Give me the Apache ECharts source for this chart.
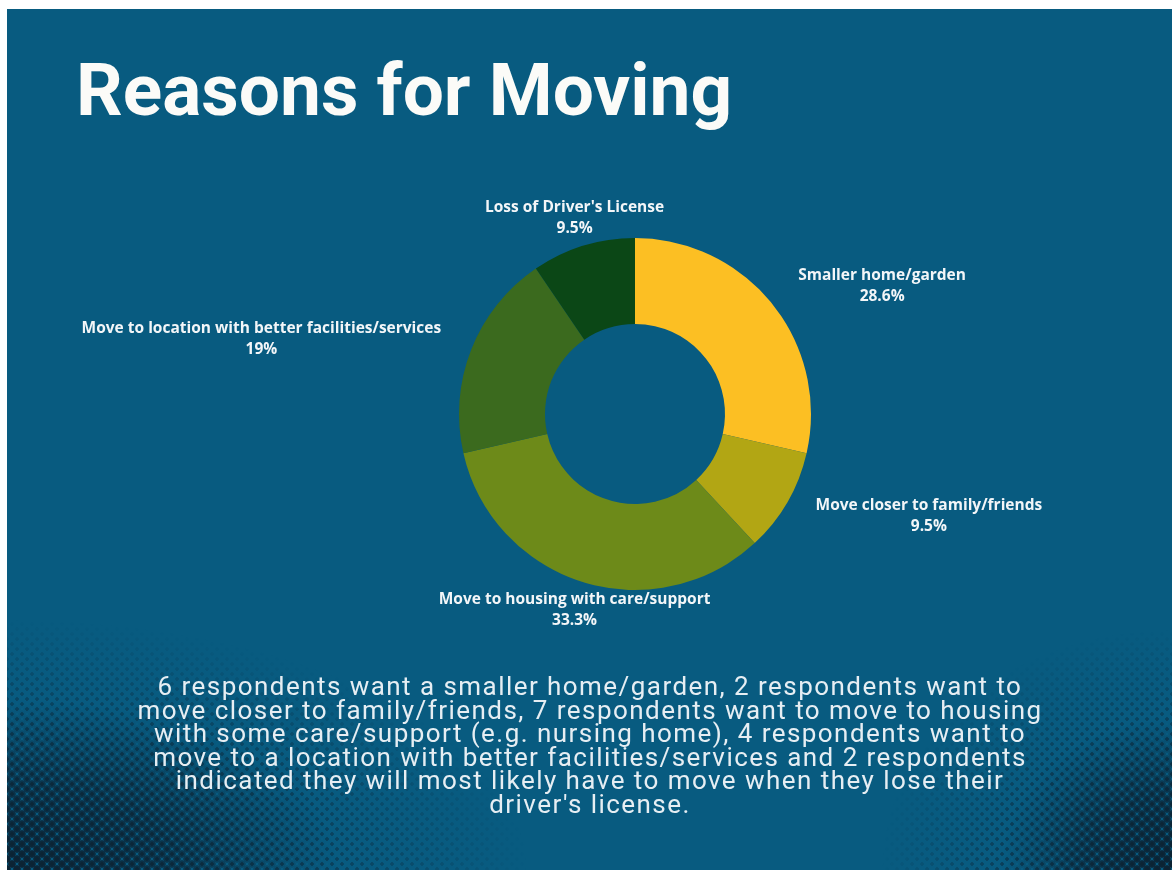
<!DOCTYPE html>
<html>
<head>
<meta charset="utf-8">
<title>Reasons for Moving</title>
<script src="https://cdn.jsdelivr.net/npm/echarts@6/dist/echarts.min.js"></script>
<style>
  html, body { margin: 0; padding: 0; background: #ffffff; }
  #panel {
    position: absolute; left: 7px; top: 9px; width: 1165px; height: 861px;
    background: #085b80; overflow: hidden;
  }
  .dots {
    position: absolute; inset: 0;
    background-size: 10px 10px;
    background-position: 0 0, 5px 5px;
  }
  .big {
    background-image:
      radial-gradient(circle at center, #0c2333 0, #0c2333 3.4px, rgba(12, 35, 51, 0) 4px),
      radial-gradient(circle at center, #0c2333 0, #0c2333 3.4px, rgba(12, 35, 51, 0) 4px);
  }
  .small {
    background-image:
      radial-gradient(circle at center, #0c2a3d 0, #0c2a3d 1.5px, rgba(12, 42, 61, 0) 2.1px),
      radial-gradient(circle at center, #0c2a3d 0, #0c2a3d 1.5px, rgba(12, 42, 61, 0) 2.1px);
  }
  #bigLeft {
    -webkit-mask-image: radial-gradient(ellipse 330px 170px at 0 100%, #000 0%, rgba(0,0,0,0.7) 50%, rgba(0,0,0,0) 100%);
    mask-image: radial-gradient(ellipse 330px 170px at 0 100%, #000 0%, rgba(0,0,0,0.7) 50%, rgba(0,0,0,0) 100%);
  }
  #smallLeft {
    -webkit-mask-image: radial-gradient(ellipse 520px 250px at 0 100%, #000 0%, rgba(0,0,0,0.6) 55%, rgba(0,0,0,0) 100%);
    mask-image: radial-gradient(ellipse 520px 250px at 0 100%, #000 0%, rgba(0,0,0,0.6) 55%, rgba(0,0,0,0) 100%);
  }
  #bigRight {
    -webkit-mask-image: radial-gradient(ellipse 170px 150px at 100% 100%, #000 0%, rgba(0,0,0,0.7) 50%, rgba(0,0,0,0) 100%);
    mask-image: radial-gradient(ellipse 170px 150px at 100% 100%, #000 0%, rgba(0,0,0,0.7) 50%, rgba(0,0,0,0) 100%);
  }
  #smallRight {
    -webkit-mask-image: radial-gradient(ellipse 290px 240px at 100% 100%, #000 0%, rgba(0,0,0,0.6) 55%, rgba(0,0,0,0) 100%);
    mask-image: radial-gradient(ellipse 290px 240px at 100% 100%, #000 0%, rgba(0,0,0,0.6) 55%, rgba(0,0,0,0) 100%);
  }
  #chart { position: absolute; left: 0; top: 0; width: 1172px; height: 870px; }
  #note {
    position: absolute; left: 40px; top: 675px; width: 1100px; margin: 0;
    text-align: center; white-space: pre-line;
    font-family: Roboto, sans-serif; font-size: 26px; line-height: 23.5px;
    letter-spacing: 1.45px; color: #e6eef3;
  }
</style>
</head>
<body>
<div id="panel">
  <div class="dots small" id="smallLeft"></div>
  <div class="dots big" id="bigLeft"></div>
  <div class="dots small" id="smallRight"></div>
  <div class="dots big" id="bigRight"></div>
</div>
<div id="chart"></div>
<p id="note"></p>
<script>
// data
var categories = [
  'Smaller home/garden',
  'Move closer to family/friends',
  'Move to housing with care/support',
  'Move to location with better facilities/services',
  "Loss of Driver's License"
];
var respondents = [6, 2, 7, 4, 2];
var sliceColors = ['#fcbf23', '#b2a614', '#6d8a19', '#3b6a1e', '#0b4716'];

var titleText = 'Reasons for Moving';
var noteLines = [
  '6 respondents want a smaller home/garden, 2 respondents want to',
  'move closer to family/friends, 7 respondents want to move to housing',
  'with some care/support (e.g. nursing home), 4 respondents want to',
  'move to a location with better facilities/services and 2 respondents',
  'indicated they will most likely have to move when they lose their',
  "driver's license."
];

var pieCenter = [635, 414];
var innerR = 90;
var outerR = 176;
var labelR = 205;

var total = respondents.reduce(function (a, b) { return a + b; }, 0);

document.getElementById('note').textContent = noteLines.join('\n');

var chart = echarts.init(document.getElementById('chart'), null, { renderer: 'canvas' });

var option = {
  backgroundColor: 'transparent',
  animation: false,
  title: {
    text: titleText,
    left: 71,
    top: 55,
    textStyle: {
      color: '#fbfbf8',
      fontFamily: 'Roboto',
      fontWeight: 'bold',
      fontSize: 73
    }
  },
  series: [
    {
      type: 'pie',
      center: pieCenter,
      radius: [innerR, outerR],
      startAngle: 90,
      clockwise: true,
      avoidLabelOverlap: false,
      data: categories.map(function (name, i) {
        return { name: name, value: respondents[i], itemStyle: { color: sliceColors[i] } };
      }),
      label: {
        show: true,
        position: 'outside',
        formatter: function (p) {
          var pct = Math.round(p.value / total * 1000) / 10;
          return p.name + '\n' + pct + '%';
        },
        color: '#f3f6f8',
        fontFamily: 'Open Sans',
        fontWeight: 'bold',
        fontSize: 15.5,
        lineHeight: 21
      },
      labelLine: { show: false },
      labelLayout: function (p) {
        var i = p.dataIndex;
        var before = 0;
        for (var k = 0; k < i; k++) before += respondents[k];
        var mid = (before + respondents[i] / 2) / total * 2 * Math.PI;
        var dx = Math.sin(mid), dy = -Math.cos(mid);
        var ax = pieCenter[0] + labelR * dx;
        var ay = pieCenter[1] + labelR * dy;
        var w = p.labelRect.width;
        var x = Math.abs(dx) < 0.5 ? ax : ax + (dx > 0 ? 1 : -1) * (3 + w / 2);
        return { x: x, y: ay, align: 'center', verticalAlign: 'middle' };
      },
      emphasis: { disabled: true }
    }
  ]
};

chart.setOption(option);
</script>
</body>
</html>
